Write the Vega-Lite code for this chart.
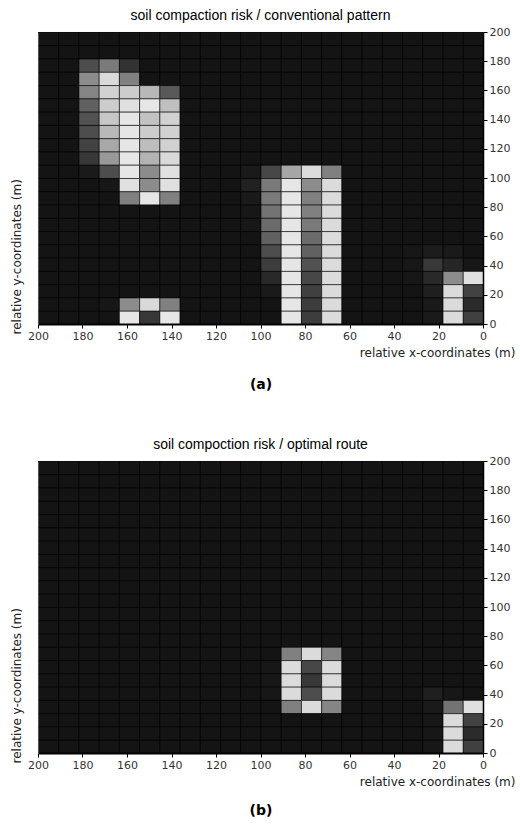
{
"$schema": "https://vega.github.io/schema/vega-lite/v6.json",
"padding": {"left": 9, "top": 8, "right": 0, "bottom": 0},
"background": "white",
"config": {"view": {"stroke": "#aaaaaa", "strokeWidth": 1}, "concat": {"spacing": 45}},
"datasets": {
"a": [
{"x":190.91,"y":190.91,"v":8},{"x":181.82,"y":190.91,"v":8},{"x":172.73,"y":190.91,"v":8},{"x":163.64,"y":190.91,"v":8},{"x":154.55,"y":190.91,"v":8},{"x":145.45,"y":190.91,"v":8},{"x":136.36,"y":190.91,"v":8},{"x":127.27,"y":190.91,"v":8},{"x":118.18,"y":190.91,"v":8},{"x":109.09,"y":190.91,"v":8},{"x":100,"y":190.91,"v":8},{"x":90.91,"y":190.91,"v":8},{"x":81.82,"y":190.91,"v":8},{"x":72.73,"y":190.91,"v":8},{"x":63.64,"y":190.91,"v":8},{"x":54.55,"y":190.91,"v":8},{"x":45.45,"y":190.91,"v":8},{"x":36.36,"y":190.91,"v":8},{"x":27.27,"y":190.91,"v":8},{"x":18.18,"y":190.91,"v":8},{"x":9.09,"y":190.91,"v":8},{"x":0,"y":190.91,"v":8},
{"x":190.91,"y":181.82,"v":8},{"x":181.82,"y":181.82,"v":8},{"x":172.73,"y":181.82,"v":8},{"x":163.64,"y":181.82,"v":8},{"x":154.55,"y":181.82,"v":8},{"x":145.45,"y":181.82,"v":8},{"x":136.36,"y":181.82,"v":8},{"x":127.27,"y":181.82,"v":8},{"x":118.18,"y":181.82,"v":8},{"x":109.09,"y":181.82,"v":8},{"x":100,"y":181.82,"v":8},{"x":90.91,"y":181.82,"v":8},{"x":81.82,"y":181.82,"v":8},{"x":72.73,"y":181.82,"v":8},{"x":63.64,"y":181.82,"v":8},{"x":54.55,"y":181.82,"v":8},{"x":45.45,"y":181.82,"v":8},{"x":36.36,"y":181.82,"v":8},{"x":27.27,"y":181.82,"v":8},{"x":18.18,"y":181.82,"v":8},{"x":9.09,"y":181.82,"v":8},{"x":0,"y":181.82,"v":8},
{"x":190.91,"y":172.73,"v":8},{"x":181.82,"y":172.73,"v":8},{"x":172.73,"y":172.73,"v":30},{"x":163.64,"y":172.73,"v":48},{"x":154.55,"y":172.73,"v":20},{"x":145.45,"y":172.73,"v":8},{"x":136.36,"y":172.73,"v":8},{"x":127.27,"y":172.73,"v":8},{"x":118.18,"y":172.73,"v":8},{"x":109.09,"y":172.73,"v":8},{"x":100,"y":172.73,"v":8},{"x":90.91,"y":172.73,"v":8},{"x":81.82,"y":172.73,"v":8},{"x":72.73,"y":172.73,"v":8},{"x":63.64,"y":172.73,"v":8},{"x":54.55,"y":172.73,"v":8},{"x":45.45,"y":172.73,"v":8},{"x":36.36,"y":172.73,"v":8},{"x":27.27,"y":172.73,"v":8},{"x":18.18,"y":172.73,"v":8},{"x":9.09,"y":172.73,"v":8},{"x":0,"y":172.73,"v":8},
{"x":190.91,"y":163.64,"v":8},{"x":181.82,"y":163.64,"v":8},{"x":172.73,"y":163.64,"v":55},{"x":163.64,"y":163.64,"v":85},{"x":154.55,"y":163.64,"v":50},{"x":145.45,"y":163.64,"v":8},{"x":136.36,"y":163.64,"v":8},{"x":127.27,"y":163.64,"v":8},{"x":118.18,"y":163.64,"v":8},{"x":109.09,"y":163.64,"v":8},{"x":100,"y":163.64,"v":8},{"x":90.91,"y":163.64,"v":8},{"x":81.82,"y":163.64,"v":8},{"x":72.73,"y":163.64,"v":8},{"x":63.64,"y":163.64,"v":8},{"x":54.55,"y":163.64,"v":8},{"x":45.45,"y":163.64,"v":8},{"x":36.36,"y":163.64,"v":8},{"x":27.27,"y":163.64,"v":8},{"x":18.18,"y":163.64,"v":8},{"x":9.09,"y":163.64,"v":8},{"x":0,"y":163.64,"v":8},
{"x":190.91,"y":154.55,"v":8},{"x":181.82,"y":154.55,"v":8},{"x":172.73,"y":154.55,"v":52},{"x":163.64,"y":154.55,"v":82},{"x":154.55,"y":154.55,"v":80},{"x":145.45,"y":154.55,"v":72},{"x":136.36,"y":154.55,"v":35},{"x":127.27,"y":154.55,"v":8},{"x":118.18,"y":154.55,"v":8},{"x":109.09,"y":154.55,"v":8},{"x":100,"y":154.55,"v":8},{"x":90.91,"y":154.55,"v":8},{"x":81.82,"y":154.55,"v":8},{"x":72.73,"y":154.55,"v":8},{"x":63.64,"y":154.55,"v":8},{"x":54.55,"y":154.55,"v":8},{"x":45.45,"y":154.55,"v":8},{"x":36.36,"y":154.55,"v":8},{"x":27.27,"y":154.55,"v":8},{"x":18.18,"y":154.55,"v":8},{"x":9.09,"y":154.55,"v":8},{"x":0,"y":154.55,"v":8},
{"x":190.91,"y":145.45,"v":8},{"x":181.82,"y":145.45,"v":8},{"x":172.73,"y":145.45,"v":38},{"x":163.64,"y":145.45,"v":80},{"x":154.55,"y":145.45,"v":88},{"x":145.45,"y":145.45,"v":90},{"x":136.36,"y":145.45,"v":75},{"x":127.27,"y":145.45,"v":8},{"x":118.18,"y":145.45,"v":8},{"x":109.09,"y":145.45,"v":8},{"x":100,"y":145.45,"v":8},{"x":90.91,"y":145.45,"v":8},{"x":81.82,"y":145.45,"v":8},{"x":72.73,"y":145.45,"v":8},{"x":63.64,"y":145.45,"v":8},{"x":54.55,"y":145.45,"v":8},{"x":45.45,"y":145.45,"v":8},{"x":36.36,"y":145.45,"v":8},{"x":27.27,"y":145.45,"v":8},{"x":18.18,"y":145.45,"v":8},{"x":9.09,"y":145.45,"v":8},{"x":0,"y":145.45,"v":8},
{"x":190.91,"y":136.36,"v":8},{"x":181.82,"y":136.36,"v":8},{"x":172.73,"y":136.36,"v":32},{"x":163.64,"y":136.36,"v":78},{"x":154.55,"y":136.36,"v":90},{"x":145.45,"y":136.36,"v":76},{"x":136.36,"y":136.36,"v":82},{"x":127.27,"y":136.36,"v":8},{"x":118.18,"y":136.36,"v":8},{"x":109.09,"y":136.36,"v":8},{"x":100,"y":136.36,"v":8},{"x":90.91,"y":136.36,"v":8},{"x":81.82,"y":136.36,"v":8},{"x":72.73,"y":136.36,"v":8},{"x":63.64,"y":136.36,"v":8},{"x":54.55,"y":136.36,"v":8},{"x":45.45,"y":136.36,"v":8},{"x":36.36,"y":136.36,"v":8},{"x":27.27,"y":136.36,"v":8},{"x":18.18,"y":136.36,"v":8},{"x":9.09,"y":136.36,"v":8},{"x":0,"y":136.36,"v":8},
{"x":190.91,"y":127.27,"v":8},{"x":181.82,"y":127.27,"v":8},{"x":172.73,"y":127.27,"v":30},{"x":163.64,"y":127.27,"v":72},{"x":154.55,"y":127.27,"v":90},{"x":145.45,"y":127.27,"v":80},{"x":136.36,"y":127.27,"v":82},{"x":127.27,"y":127.27,"v":8},{"x":118.18,"y":127.27,"v":8},{"x":109.09,"y":127.27,"v":8},{"x":100,"y":127.27,"v":8},{"x":90.91,"y":127.27,"v":8},{"x":81.82,"y":127.27,"v":8},{"x":72.73,"y":127.27,"v":8},{"x":63.64,"y":127.27,"v":8},{"x":54.55,"y":127.27,"v":8},{"x":45.45,"y":127.27,"v":8},{"x":36.36,"y":127.27,"v":8},{"x":27.27,"y":127.27,"v":8},{"x":18.18,"y":127.27,"v":8},{"x":9.09,"y":127.27,"v":8},{"x":0,"y":127.27,"v":8},
{"x":190.91,"y":118.18,"v":8},{"x":181.82,"y":118.18,"v":8},{"x":172.73,"y":118.18,"v":26},{"x":163.64,"y":118.18,"v":66},{"x":154.55,"y":118.18,"v":90},{"x":145.45,"y":118.18,"v":74},{"x":136.36,"y":118.18,"v":82},{"x":127.27,"y":118.18,"v":8},{"x":118.18,"y":118.18,"v":8},{"x":109.09,"y":118.18,"v":8},{"x":100,"y":118.18,"v":8},{"x":90.91,"y":118.18,"v":8},{"x":81.82,"y":118.18,"v":8},{"x":72.73,"y":118.18,"v":8},{"x":63.64,"y":118.18,"v":8},{"x":54.55,"y":118.18,"v":8},{"x":45.45,"y":118.18,"v":8},{"x":36.36,"y":118.18,"v":8},{"x":27.27,"y":118.18,"v":8},{"x":18.18,"y":118.18,"v":8},{"x":9.09,"y":118.18,"v":8},{"x":0,"y":118.18,"v":8},
{"x":190.91,"y":109.09,"v":8},{"x":181.82,"y":109.09,"v":8},{"x":172.73,"y":109.09,"v":22},{"x":163.64,"y":109.09,"v":60},{"x":154.55,"y":109.09,"v":90},{"x":145.45,"y":109.09,"v":70},{"x":136.36,"y":109.09,"v":85},{"x":127.27,"y":109.09,"v":8},{"x":118.18,"y":109.09,"v":8},{"x":109.09,"y":109.09,"v":8},{"x":100,"y":109.09,"v":8},{"x":90.91,"y":109.09,"v":8},{"x":81.82,"y":109.09,"v":8},{"x":72.73,"y":109.09,"v":8},{"x":63.64,"y":109.09,"v":8},{"x":54.55,"y":109.09,"v":8},{"x":45.45,"y":109.09,"v":8},{"x":36.36,"y":109.09,"v":8},{"x":27.27,"y":109.09,"v":8},{"x":18.18,"y":109.09,"v":8},{"x":9.09,"y":109.09,"v":8},{"x":0,"y":109.09,"v":8},
{"x":190.91,"y":100,"v":8},{"x":181.82,"y":100,"v":8},{"x":172.73,"y":100,"v":10},{"x":163.64,"y":100,"v":30},{"x":154.55,"y":100,"v":90},{"x":145.45,"y":100,"v":55},{"x":136.36,"y":100,"v":88},{"x":127.27,"y":100,"v":8},{"x":118.18,"y":100,"v":8},{"x":109.09,"y":100,"v":8},{"x":100,"y":100,"v":10},{"x":90.91,"y":100,"v":28},{"x":81.82,"y":100,"v":65},{"x":72.73,"y":100,"v":86},{"x":63.64,"y":100,"v":50},{"x":54.55,"y":100,"v":8},{"x":45.45,"y":100,"v":8},{"x":36.36,"y":100,"v":8},{"x":27.27,"y":100,"v":8},{"x":18.18,"y":100,"v":8},{"x":9.09,"y":100,"v":8},{"x":0,"y":100,"v":8},
{"x":190.91,"y":90.91,"v":8},{"x":181.82,"y":90.91,"v":8},{"x":172.73,"y":90.91,"v":8},{"x":163.64,"y":90.91,"v":9},{"x":154.55,"y":90.91,"v":88},{"x":145.45,"y":90.91,"v":55},{"x":136.36,"y":90.91,"v":88},{"x":127.27,"y":90.91,"v":8},{"x":118.18,"y":90.91,"v":8},{"x":109.09,"y":90.91,"v":8},{"x":100,"y":90.91,"v":13},{"x":90.91,"y":90.91,"v":48},{"x":81.82,"y":90.91,"v":90},{"x":72.73,"y":90.91,"v":55},{"x":63.64,"y":90.91,"v":86},{"x":54.55,"y":90.91,"v":8},{"x":45.45,"y":90.91,"v":8},{"x":36.36,"y":90.91,"v":8},{"x":27.27,"y":90.91,"v":8},{"x":18.18,"y":90.91,"v":8},{"x":9.09,"y":90.91,"v":8},{"x":0,"y":90.91,"v":8},
{"x":190.91,"y":81.82,"v":8},{"x":181.82,"y":81.82,"v":8},{"x":172.73,"y":81.82,"v":8},{"x":163.64,"y":81.82,"v":8},{"x":154.55,"y":81.82,"v":50},{"x":145.45,"y":81.82,"v":90},{"x":136.36,"y":81.82,"v":50},{"x":127.27,"y":81.82,"v":8},{"x":118.18,"y":81.82,"v":8},{"x":109.09,"y":81.82,"v":8},{"x":100,"y":81.82,"v":10},{"x":90.91,"y":81.82,"v":48},{"x":81.82,"y":81.82,"v":90},{"x":72.73,"y":81.82,"v":50},{"x":63.64,"y":81.82,"v":86},{"x":54.55,"y":81.82,"v":8},{"x":45.45,"y":81.82,"v":8},{"x":36.36,"y":81.82,"v":8},{"x":27.27,"y":81.82,"v":8},{"x":18.18,"y":81.82,"v":8},{"x":9.09,"y":81.82,"v":8},{"x":0,"y":81.82,"v":8},
{"x":190.91,"y":72.73,"v":8},{"x":181.82,"y":72.73,"v":8},{"x":172.73,"y":72.73,"v":8},{"x":163.64,"y":72.73,"v":8},{"x":154.55,"y":72.73,"v":8},{"x":145.45,"y":72.73,"v":8},{"x":136.36,"y":72.73,"v":8},{"x":127.27,"y":72.73,"v":8},{"x":118.18,"y":72.73,"v":8},{"x":109.09,"y":72.73,"v":8},{"x":100,"y":72.73,"v":9},{"x":90.91,"y":72.73,"v":45},{"x":81.82,"y":72.73,"v":90},{"x":72.73,"y":72.73,"v":50},{"x":63.64,"y":72.73,"v":86},{"x":54.55,"y":72.73,"v":8},{"x":45.45,"y":72.73,"v":8},{"x":36.36,"y":72.73,"v":8},{"x":27.27,"y":72.73,"v":8},{"x":18.18,"y":72.73,"v":8},{"x":9.09,"y":72.73,"v":8},{"x":0,"y":72.73,"v":8},
{"x":190.91,"y":63.64,"v":8},{"x":181.82,"y":63.64,"v":8},{"x":172.73,"y":63.64,"v":8},{"x":163.64,"y":63.64,"v":8},{"x":154.55,"y":63.64,"v":8},{"x":145.45,"y":63.64,"v":8},{"x":136.36,"y":63.64,"v":8},{"x":127.27,"y":63.64,"v":8},{"x":118.18,"y":63.64,"v":8},{"x":109.09,"y":63.64,"v":8},{"x":100,"y":63.64,"v":9},{"x":90.91,"y":63.64,"v":42},{"x":81.82,"y":63.64,"v":90},{"x":72.73,"y":63.64,"v":48},{"x":63.64,"y":63.64,"v":86},{"x":54.55,"y":63.64,"v":8},{"x":45.45,"y":63.64,"v":8},{"x":36.36,"y":63.64,"v":8},{"x":27.27,"y":63.64,"v":8},{"x":18.18,"y":63.64,"v":8},{"x":9.09,"y":63.64,"v":8},{"x":0,"y":63.64,"v":8},
{"x":190.91,"y":54.55,"v":8},{"x":181.82,"y":54.55,"v":8},{"x":172.73,"y":54.55,"v":8},{"x":163.64,"y":54.55,"v":8},{"x":154.55,"y":54.55,"v":8},{"x":145.45,"y":54.55,"v":8},{"x":136.36,"y":54.55,"v":8},{"x":127.27,"y":54.55,"v":8},{"x":118.18,"y":54.55,"v":8},{"x":109.09,"y":54.55,"v":8},{"x":100,"y":54.55,"v":8},{"x":90.91,"y":54.55,"v":38},{"x":81.82,"y":54.55,"v":90},{"x":72.73,"y":54.55,"v":42},{"x":63.64,"y":54.55,"v":86},{"x":54.55,"y":54.55,"v":8},{"x":45.45,"y":54.55,"v":8},{"x":36.36,"y":54.55,"v":8},{"x":27.27,"y":54.55,"v":8},{"x":18.18,"y":54.55,"v":8},{"x":9.09,"y":54.55,"v":8},{"x":0,"y":54.55,"v":8},
{"x":190.91,"y":45.45,"v":8},{"x":181.82,"y":45.45,"v":8},{"x":172.73,"y":45.45,"v":8},{"x":163.64,"y":45.45,"v":8},{"x":154.55,"y":45.45,"v":8},{"x":145.45,"y":45.45,"v":8},{"x":136.36,"y":45.45,"v":8},{"x":127.27,"y":45.45,"v":8},{"x":118.18,"y":45.45,"v":8},{"x":109.09,"y":45.45,"v":8},{"x":100,"y":45.45,"v":8},{"x":90.91,"y":45.45,"v":30},{"x":81.82,"y":45.45,"v":90},{"x":72.73,"y":45.45,"v":38},{"x":63.64,"y":45.45,"v":86},{"x":54.55,"y":45.45,"v":8},{"x":45.45,"y":45.45,"v":8},{"x":36.36,"y":45.45,"v":8},{"x":27.27,"y":45.45,"v":9},{"x":18.18,"y":45.45,"v":11},{"x":9.09,"y":45.45,"v":10},{"x":0,"y":45.45,"v":8},
{"x":190.91,"y":36.36,"v":8},{"x":181.82,"y":36.36,"v":8},{"x":172.73,"y":36.36,"v":8},{"x":163.64,"y":36.36,"v":8},{"x":154.55,"y":36.36,"v":8},{"x":145.45,"y":36.36,"v":8},{"x":136.36,"y":36.36,"v":8},{"x":127.27,"y":36.36,"v":8},{"x":118.18,"y":36.36,"v":8},{"x":109.09,"y":36.36,"v":8},{"x":100,"y":36.36,"v":8},{"x":90.91,"y":36.36,"v":24},{"x":81.82,"y":36.36,"v":90},{"x":72.73,"y":36.36,"v":32},{"x":63.64,"y":36.36,"v":86},{"x":54.55,"y":36.36,"v":8},{"x":45.45,"y":36.36,"v":8},{"x":36.36,"y":36.36,"v":8},{"x":27.27,"y":36.36,"v":9},{"x":18.18,"y":36.36,"v":22},{"x":9.09,"y":36.36,"v":15},{"x":0,"y":36.36,"v":9},
{"x":190.91,"y":27.27,"v":8},{"x":181.82,"y":27.27,"v":8},{"x":172.73,"y":27.27,"v":8},{"x":163.64,"y":27.27,"v":8},{"x":154.55,"y":27.27,"v":8},{"x":145.45,"y":27.27,"v":8},{"x":136.36,"y":27.27,"v":8},{"x":127.27,"y":27.27,"v":8},{"x":118.18,"y":27.27,"v":8},{"x":109.09,"y":27.27,"v":8},{"x":100,"y":27.27,"v":8},{"x":90.91,"y":27.27,"v":16},{"x":81.82,"y":27.27,"v":90},{"x":72.73,"y":27.27,"v":28},{"x":63.64,"y":27.27,"v":86},{"x":54.55,"y":27.27,"v":8},{"x":45.45,"y":27.27,"v":8},{"x":36.36,"y":27.27,"v":8},{"x":27.27,"y":27.27,"v":9},{"x":18.18,"y":27.27,"v":16},{"x":9.09,"y":27.27,"v":55},{"x":0,"y":27.27,"v":88},
{"x":190.91,"y":18.18,"v":8},{"x":181.82,"y":18.18,"v":8},{"x":172.73,"y":18.18,"v":8},{"x":163.64,"y":18.18,"v":8},{"x":154.55,"y":18.18,"v":8},{"x":145.45,"y":18.18,"v":8},{"x":136.36,"y":18.18,"v":8},{"x":127.27,"y":18.18,"v":8},{"x":118.18,"y":18.18,"v":8},{"x":109.09,"y":18.18,"v":8},{"x":100,"y":18.18,"v":8},{"x":90.91,"y":18.18,"v":10},{"x":81.82,"y":18.18,"v":90},{"x":72.73,"y":18.18,"v":25},{"x":63.64,"y":18.18,"v":86},{"x":54.55,"y":18.18,"v":8},{"x":45.45,"y":18.18,"v":8},{"x":36.36,"y":18.18,"v":8},{"x":27.27,"y":18.18,"v":8},{"x":18.18,"y":18.18,"v":12},{"x":9.09,"y":18.18,"v":86},{"x":0,"y":18.18,"v":26},
{"x":190.91,"y":9.09,"v":8},{"x":181.82,"y":9.09,"v":8},{"x":172.73,"y":9.09,"v":8},{"x":163.64,"y":9.09,"v":9},{"x":154.55,"y":9.09,"v":55},{"x":145.45,"y":9.09,"v":85},{"x":136.36,"y":9.09,"v":50},{"x":127.27,"y":9.09,"v":8},{"x":118.18,"y":9.09,"v":8},{"x":109.09,"y":9.09,"v":8},{"x":100,"y":9.09,"v":8},{"x":90.91,"y":9.09,"v":8},{"x":81.82,"y":9.09,"v":90},{"x":72.73,"y":9.09,"v":24},{"x":63.64,"y":9.09,"v":86},{"x":54.55,"y":9.09,"v":8},{"x":45.45,"y":9.09,"v":8},{"x":36.36,"y":9.09,"v":8},{"x":27.27,"y":9.09,"v":8},{"x":18.18,"y":9.09,"v":10},{"x":9.09,"y":9.09,"v":86},{"x":0,"y":9.09,"v":17},
{"x":190.91,"y":0,"v":8},{"x":181.82,"y":0,"v":8},{"x":172.73,"y":0,"v":8},{"x":163.64,"y":0,"v":8},{"x":154.55,"y":0,"v":90},{"x":145.45,"y":0,"v":22},{"x":136.36,"y":0,"v":90},{"x":127.27,"y":0,"v":8},{"x":118.18,"y":0,"v":8},{"x":109.09,"y":0,"v":8},{"x":100,"y":0,"v":8},{"x":90.91,"y":0,"v":8},{"x":81.82,"y":0,"v":90},{"x":72.73,"y":0,"v":24},{"x":63.64,"y":0,"v":86},{"x":54.55,"y":0,"v":8},{"x":45.45,"y":0,"v":8},{"x":36.36,"y":0,"v":8},{"x":27.27,"y":0,"v":8},{"x":18.18,"y":0,"v":10},{"x":9.09,"y":0,"v":86},{"x":0,"y":0,"v":25}
],
"b": [
{"x":190.91,"y":190.91,"v":8},{"x":181.82,"y":190.91,"v":8},{"x":172.73,"y":190.91,"v":8},{"x":163.64,"y":190.91,"v":8},{"x":154.55,"y":190.91,"v":8},{"x":145.45,"y":190.91,"v":8},{"x":136.36,"y":190.91,"v":8},{"x":127.27,"y":190.91,"v":8},{"x":118.18,"y":190.91,"v":8},{"x":109.09,"y":190.91,"v":8},{"x":100,"y":190.91,"v":8},{"x":90.91,"y":190.91,"v":8},{"x":81.82,"y":190.91,"v":8},{"x":72.73,"y":190.91,"v":8},{"x":63.64,"y":190.91,"v":8},{"x":54.55,"y":190.91,"v":8},{"x":45.45,"y":190.91,"v":8},{"x":36.36,"y":190.91,"v":8},{"x":27.27,"y":190.91,"v":8},{"x":18.18,"y":190.91,"v":8},{"x":9.09,"y":190.91,"v":8},{"x":0,"y":190.91,"v":8},
{"x":190.91,"y":181.82,"v":8},{"x":181.82,"y":181.82,"v":8},{"x":172.73,"y":181.82,"v":8},{"x":163.64,"y":181.82,"v":8},{"x":154.55,"y":181.82,"v":8},{"x":145.45,"y":181.82,"v":8},{"x":136.36,"y":181.82,"v":8},{"x":127.27,"y":181.82,"v":8},{"x":118.18,"y":181.82,"v":8},{"x":109.09,"y":181.82,"v":8},{"x":100,"y":181.82,"v":8},{"x":90.91,"y":181.82,"v":8},{"x":81.82,"y":181.82,"v":8},{"x":72.73,"y":181.82,"v":8},{"x":63.64,"y":181.82,"v":8},{"x":54.55,"y":181.82,"v":8},{"x":45.45,"y":181.82,"v":8},{"x":36.36,"y":181.82,"v":8},{"x":27.27,"y":181.82,"v":8},{"x":18.18,"y":181.82,"v":8},{"x":9.09,"y":181.82,"v":8},{"x":0,"y":181.82,"v":8},
{"x":190.91,"y":172.73,"v":8},{"x":181.82,"y":172.73,"v":8},{"x":172.73,"y":172.73,"v":8},{"x":163.64,"y":172.73,"v":8},{"x":154.55,"y":172.73,"v":8},{"x":145.45,"y":172.73,"v":8},{"x":136.36,"y":172.73,"v":8},{"x":127.27,"y":172.73,"v":8},{"x":118.18,"y":172.73,"v":8},{"x":109.09,"y":172.73,"v":8},{"x":100,"y":172.73,"v":8},{"x":90.91,"y":172.73,"v":8},{"x":81.82,"y":172.73,"v":8},{"x":72.73,"y":172.73,"v":8},{"x":63.64,"y":172.73,"v":8},{"x":54.55,"y":172.73,"v":8},{"x":45.45,"y":172.73,"v":8},{"x":36.36,"y":172.73,"v":8},{"x":27.27,"y":172.73,"v":8},{"x":18.18,"y":172.73,"v":8},{"x":9.09,"y":172.73,"v":8},{"x":0,"y":172.73,"v":8},
{"x":190.91,"y":163.64,"v":8},{"x":181.82,"y":163.64,"v":8},{"x":172.73,"y":163.64,"v":8},{"x":163.64,"y":163.64,"v":8},{"x":154.55,"y":163.64,"v":8},{"x":145.45,"y":163.64,"v":8},{"x":136.36,"y":163.64,"v":8},{"x":127.27,"y":163.64,"v":8},{"x":118.18,"y":163.64,"v":8},{"x":109.09,"y":163.64,"v":8},{"x":100,"y":163.64,"v":8},{"x":90.91,"y":163.64,"v":8},{"x":81.82,"y":163.64,"v":8},{"x":72.73,"y":163.64,"v":8},{"x":63.64,"y":163.64,"v":8},{"x":54.55,"y":163.64,"v":8},{"x":45.45,"y":163.64,"v":8},{"x":36.36,"y":163.64,"v":8},{"x":27.27,"y":163.64,"v":8},{"x":18.18,"y":163.64,"v":8},{"x":9.09,"y":163.64,"v":8},{"x":0,"y":163.64,"v":8},
{"x":190.91,"y":154.55,"v":8},{"x":181.82,"y":154.55,"v":8},{"x":172.73,"y":154.55,"v":8},{"x":163.64,"y":154.55,"v":8},{"x":154.55,"y":154.55,"v":8},{"x":145.45,"y":154.55,"v":8},{"x":136.36,"y":154.55,"v":8},{"x":127.27,"y":154.55,"v":8},{"x":118.18,"y":154.55,"v":8},{"x":109.09,"y":154.55,"v":8},{"x":100,"y":154.55,"v":8},{"x":90.91,"y":154.55,"v":8},{"x":81.82,"y":154.55,"v":8},{"x":72.73,"y":154.55,"v":8},{"x":63.64,"y":154.55,"v":8},{"x":54.55,"y":154.55,"v":8},{"x":45.45,"y":154.55,"v":8},{"x":36.36,"y":154.55,"v":8},{"x":27.27,"y":154.55,"v":8},{"x":18.18,"y":154.55,"v":8},{"x":9.09,"y":154.55,"v":8},{"x":0,"y":154.55,"v":8},
{"x":190.91,"y":145.45,"v":8},{"x":181.82,"y":145.45,"v":8},{"x":172.73,"y":145.45,"v":8},{"x":163.64,"y":145.45,"v":8},{"x":154.55,"y":145.45,"v":8},{"x":145.45,"y":145.45,"v":8},{"x":136.36,"y":145.45,"v":8},{"x":127.27,"y":145.45,"v":8},{"x":118.18,"y":145.45,"v":8},{"x":109.09,"y":145.45,"v":8},{"x":100,"y":145.45,"v":8},{"x":90.91,"y":145.45,"v":8},{"x":81.82,"y":145.45,"v":8},{"x":72.73,"y":145.45,"v":8},{"x":63.64,"y":145.45,"v":8},{"x":54.55,"y":145.45,"v":8},{"x":45.45,"y":145.45,"v":8},{"x":36.36,"y":145.45,"v":8},{"x":27.27,"y":145.45,"v":8},{"x":18.18,"y":145.45,"v":8},{"x":9.09,"y":145.45,"v":8},{"x":0,"y":145.45,"v":8},
{"x":190.91,"y":136.36,"v":8},{"x":181.82,"y":136.36,"v":8},{"x":172.73,"y":136.36,"v":8},{"x":163.64,"y":136.36,"v":8},{"x":154.55,"y":136.36,"v":8},{"x":145.45,"y":136.36,"v":8},{"x":136.36,"y":136.36,"v":8},{"x":127.27,"y":136.36,"v":8},{"x":118.18,"y":136.36,"v":8},{"x":109.09,"y":136.36,"v":8},{"x":100,"y":136.36,"v":8},{"x":90.91,"y":136.36,"v":8},{"x":81.82,"y":136.36,"v":8},{"x":72.73,"y":136.36,"v":8},{"x":63.64,"y":136.36,"v":8},{"x":54.55,"y":136.36,"v":8},{"x":45.45,"y":136.36,"v":8},{"x":36.36,"y":136.36,"v":8},{"x":27.27,"y":136.36,"v":8},{"x":18.18,"y":136.36,"v":8},{"x":9.09,"y":136.36,"v":8},{"x":0,"y":136.36,"v":8},
{"x":190.91,"y":127.27,"v":8},{"x":181.82,"y":127.27,"v":8},{"x":172.73,"y":127.27,"v":8},{"x":163.64,"y":127.27,"v":8},{"x":154.55,"y":127.27,"v":8},{"x":145.45,"y":127.27,"v":8},{"x":136.36,"y":127.27,"v":8},{"x":127.27,"y":127.27,"v":8},{"x":118.18,"y":127.27,"v":8},{"x":109.09,"y":127.27,"v":8},{"x":100,"y":127.27,"v":8},{"x":90.91,"y":127.27,"v":8},{"x":81.82,"y":127.27,"v":8},{"x":72.73,"y":127.27,"v":8},{"x":63.64,"y":127.27,"v":8},{"x":54.55,"y":127.27,"v":8},{"x":45.45,"y":127.27,"v":8},{"x":36.36,"y":127.27,"v":8},{"x":27.27,"y":127.27,"v":8},{"x":18.18,"y":127.27,"v":8},{"x":9.09,"y":127.27,"v":8},{"x":0,"y":127.27,"v":8},
{"x":190.91,"y":118.18,"v":8},{"x":181.82,"y":118.18,"v":8},{"x":172.73,"y":118.18,"v":8},{"x":163.64,"y":118.18,"v":8},{"x":154.55,"y":118.18,"v":8},{"x":145.45,"y":118.18,"v":8},{"x":136.36,"y":118.18,"v":8},{"x":127.27,"y":118.18,"v":8},{"x":118.18,"y":118.18,"v":8},{"x":109.09,"y":118.18,"v":8},{"x":100,"y":118.18,"v":8},{"x":90.91,"y":118.18,"v":8},{"x":81.82,"y":118.18,"v":8},{"x":72.73,"y":118.18,"v":8},{"x":63.64,"y":118.18,"v":8},{"x":54.55,"y":118.18,"v":8},{"x":45.45,"y":118.18,"v":8},{"x":36.36,"y":118.18,"v":8},{"x":27.27,"y":118.18,"v":8},{"x":18.18,"y":118.18,"v":8},{"x":9.09,"y":118.18,"v":8},{"x":0,"y":118.18,"v":8},
{"x":190.91,"y":109.09,"v":8},{"x":181.82,"y":109.09,"v":8},{"x":172.73,"y":109.09,"v":8},{"x":163.64,"y":109.09,"v":8},{"x":154.55,"y":109.09,"v":8},{"x":145.45,"y":109.09,"v":8},{"x":136.36,"y":109.09,"v":8},{"x":127.27,"y":109.09,"v":8},{"x":118.18,"y":109.09,"v":8},{"x":109.09,"y":109.09,"v":8},{"x":100,"y":109.09,"v":8},{"x":90.91,"y":109.09,"v":8},{"x":81.82,"y":109.09,"v":8},{"x":72.73,"y":109.09,"v":8},{"x":63.64,"y":109.09,"v":8},{"x":54.55,"y":109.09,"v":8},{"x":45.45,"y":109.09,"v":8},{"x":36.36,"y":109.09,"v":8},{"x":27.27,"y":109.09,"v":8},{"x":18.18,"y":109.09,"v":8},{"x":9.09,"y":109.09,"v":8},{"x":0,"y":109.09,"v":8},
{"x":190.91,"y":100,"v":8},{"x":181.82,"y":100,"v":8},{"x":172.73,"y":100,"v":8},{"x":163.64,"y":100,"v":8},{"x":154.55,"y":100,"v":8},{"x":145.45,"y":100,"v":8},{"x":136.36,"y":100,"v":8},{"x":127.27,"y":100,"v":8},{"x":118.18,"y":100,"v":8},{"x":109.09,"y":100,"v":8},{"x":100,"y":100,"v":8},{"x":90.91,"y":100,"v":8},{"x":81.82,"y":100,"v":8},{"x":72.73,"y":100,"v":8},{"x":63.64,"y":100,"v":8},{"x":54.55,"y":100,"v":8},{"x":45.45,"y":100,"v":8},{"x":36.36,"y":100,"v":8},{"x":27.27,"y":100,"v":8},{"x":18.18,"y":100,"v":8},{"x":9.09,"y":100,"v":8},{"x":0,"y":100,"v":8},
{"x":190.91,"y":90.91,"v":8},{"x":181.82,"y":90.91,"v":8},{"x":172.73,"y":90.91,"v":8},{"x":163.64,"y":90.91,"v":8},{"x":154.55,"y":90.91,"v":8},{"x":145.45,"y":90.91,"v":8},{"x":136.36,"y":90.91,"v":8},{"x":127.27,"y":90.91,"v":8},{"x":118.18,"y":90.91,"v":8},{"x":109.09,"y":90.91,"v":8},{"x":100,"y":90.91,"v":8},{"x":90.91,"y":90.91,"v":8},{"x":81.82,"y":90.91,"v":8},{"x":72.73,"y":90.91,"v":8},{"x":63.64,"y":90.91,"v":8},{"x":54.55,"y":90.91,"v":8},{"x":45.45,"y":90.91,"v":8},{"x":36.36,"y":90.91,"v":8},{"x":27.27,"y":90.91,"v":8},{"x":18.18,"y":90.91,"v":8},{"x":9.09,"y":90.91,"v":8},{"x":0,"y":90.91,"v":8},
{"x":190.91,"y":81.82,"v":8},{"x":181.82,"y":81.82,"v":8},{"x":172.73,"y":81.82,"v":8},{"x":163.64,"y":81.82,"v":8},{"x":154.55,"y":81.82,"v":8},{"x":145.45,"y":81.82,"v":8},{"x":136.36,"y":81.82,"v":8},{"x":127.27,"y":81.82,"v":8},{"x":118.18,"y":81.82,"v":8},{"x":109.09,"y":81.82,"v":8},{"x":100,"y":81.82,"v":8},{"x":90.91,"y":81.82,"v":8},{"x":81.82,"y":81.82,"v":8},{"x":72.73,"y":81.82,"v":8},{"x":63.64,"y":81.82,"v":8},{"x":54.55,"y":81.82,"v":8},{"x":45.45,"y":81.82,"v":8},{"x":36.36,"y":81.82,"v":8},{"x":27.27,"y":81.82,"v":8},{"x":18.18,"y":81.82,"v":8},{"x":9.09,"y":81.82,"v":8},{"x":0,"y":81.82,"v":8},
{"x":190.91,"y":72.73,"v":8},{"x":181.82,"y":72.73,"v":8},{"x":172.73,"y":72.73,"v":8},{"x":163.64,"y":72.73,"v":8},{"x":154.55,"y":72.73,"v":8},{"x":145.45,"y":72.73,"v":8},{"x":136.36,"y":72.73,"v":8},{"x":127.27,"y":72.73,"v":8},{"x":118.18,"y":72.73,"v":8},{"x":109.09,"y":72.73,"v":8},{"x":100,"y":72.73,"v":8},{"x":90.91,"y":72.73,"v":8},{"x":81.82,"y":72.73,"v":8},{"x":72.73,"y":72.73,"v":8},{"x":63.64,"y":72.73,"v":8},{"x":54.55,"y":72.73,"v":8},{"x":45.45,"y":72.73,"v":8},{"x":36.36,"y":72.73,"v":8},{"x":27.27,"y":72.73,"v":8},{"x":18.18,"y":72.73,"v":8},{"x":9.09,"y":72.73,"v":8},{"x":0,"y":72.73,"v":8},
{"x":190.91,"y":63.64,"v":8},{"x":181.82,"y":63.64,"v":8},{"x":172.73,"y":63.64,"v":8},{"x":163.64,"y":63.64,"v":8},{"x":154.55,"y":63.64,"v":8},{"x":145.45,"y":63.64,"v":8},{"x":136.36,"y":63.64,"v":8},{"x":127.27,"y":63.64,"v":8},{"x":118.18,"y":63.64,"v":8},{"x":109.09,"y":63.64,"v":8},{"x":100,"y":63.64,"v":8},{"x":90.91,"y":63.64,"v":8},{"x":81.82,"y":63.64,"v":50},{"x":72.73,"y":63.64,"v":86},{"x":63.64,"y":63.64,"v":52},{"x":54.55,"y":63.64,"v":8},{"x":45.45,"y":63.64,"v":8},{"x":36.36,"y":63.64,"v":8},{"x":27.27,"y":63.64,"v":8},{"x":18.18,"y":63.64,"v":8},{"x":9.09,"y":63.64,"v":8},{"x":0,"y":63.64,"v":8},
{"x":190.91,"y":54.55,"v":8},{"x":181.82,"y":54.55,"v":8},{"x":172.73,"y":54.55,"v":8},{"x":163.64,"y":54.55,"v":8},{"x":154.55,"y":54.55,"v":8},{"x":145.45,"y":54.55,"v":8},{"x":136.36,"y":54.55,"v":8},{"x":127.27,"y":54.55,"v":8},{"x":118.18,"y":54.55,"v":8},{"x":109.09,"y":54.55,"v":8},{"x":100,"y":54.55,"v":8},{"x":90.91,"y":54.55,"v":9},{"x":81.82,"y":54.55,"v":86},{"x":72.73,"y":54.55,"v":28},{"x":63.64,"y":54.55,"v":86},{"x":54.55,"y":54.55,"v":8},{"x":45.45,"y":54.55,"v":8},{"x":36.36,"y":54.55,"v":8},{"x":27.27,"y":54.55,"v":8},{"x":18.18,"y":54.55,"v":8},{"x":9.09,"y":54.55,"v":8},{"x":0,"y":54.55,"v":8},
{"x":190.91,"y":45.45,"v":8},{"x":181.82,"y":45.45,"v":8},{"x":172.73,"y":45.45,"v":8},{"x":163.64,"y":45.45,"v":8},{"x":154.55,"y":45.45,"v":8},{"x":145.45,"y":45.45,"v":8},{"x":136.36,"y":45.45,"v":8},{"x":127.27,"y":45.45,"v":8},{"x":118.18,"y":45.45,"v":8},{"x":109.09,"y":45.45,"v":8},{"x":100,"y":45.45,"v":8},{"x":90.91,"y":45.45,"v":9},{"x":81.82,"y":45.45,"v":86},{"x":72.73,"y":45.45,"v":22},{"x":63.64,"y":45.45,"v":86},{"x":54.55,"y":45.45,"v":8},{"x":45.45,"y":45.45,"v":8},{"x":36.36,"y":45.45,"v":8},{"x":27.27,"y":45.45,"v":8},{"x":18.18,"y":45.45,"v":8},{"x":9.09,"y":45.45,"v":8},{"x":0,"y":45.45,"v":8},
{"x":190.91,"y":36.36,"v":8},{"x":181.82,"y":36.36,"v":8},{"x":172.73,"y":36.36,"v":8},{"x":163.64,"y":36.36,"v":8},{"x":154.55,"y":36.36,"v":8},{"x":145.45,"y":36.36,"v":8},{"x":136.36,"y":36.36,"v":8},{"x":127.27,"y":36.36,"v":8},{"x":118.18,"y":36.36,"v":8},{"x":109.09,"y":36.36,"v":8},{"x":100,"y":36.36,"v":8},{"x":90.91,"y":36.36,"v":9},{"x":81.82,"y":36.36,"v":86},{"x":72.73,"y":36.36,"v":30},{"x":63.64,"y":36.36,"v":86},{"x":54.55,"y":36.36,"v":8},{"x":45.45,"y":36.36,"v":8},{"x":36.36,"y":36.36,"v":8},{"x":27.27,"y":36.36,"v":8},{"x":18.18,"y":36.36,"v":12},{"x":9.09,"y":36.36,"v":9},{"x":0,"y":36.36,"v":8},
{"x":190.91,"y":27.27,"v":8},{"x":181.82,"y":27.27,"v":8},{"x":172.73,"y":27.27,"v":8},{"x":163.64,"y":27.27,"v":8},{"x":154.55,"y":27.27,"v":8},{"x":145.45,"y":27.27,"v":8},{"x":136.36,"y":27.27,"v":8},{"x":127.27,"y":27.27,"v":8},{"x":118.18,"y":27.27,"v":8},{"x":109.09,"y":27.27,"v":8},{"x":100,"y":27.27,"v":8},{"x":90.91,"y":27.27,"v":8},{"x":81.82,"y":27.27,"v":50},{"x":72.73,"y":27.27,"v":86},{"x":63.64,"y":27.27,"v":52},{"x":54.55,"y":27.27,"v":8},{"x":45.45,"y":27.27,"v":8},{"x":36.36,"y":27.27,"v":8},{"x":27.27,"y":27.27,"v":8},{"x":18.18,"y":27.27,"v":10},{"x":9.09,"y":27.27,"v":45},{"x":0,"y":27.27,"v":88},
{"x":190.91,"y":18.18,"v":8},{"x":181.82,"y":18.18,"v":8},{"x":172.73,"y":18.18,"v":8},{"x":163.64,"y":18.18,"v":8},{"x":154.55,"y":18.18,"v":8},{"x":145.45,"y":18.18,"v":8},{"x":136.36,"y":18.18,"v":8},{"x":127.27,"y":18.18,"v":8},{"x":118.18,"y":18.18,"v":8},{"x":109.09,"y":18.18,"v":8},{"x":100,"y":18.18,"v":8},{"x":90.91,"y":18.18,"v":8},{"x":81.82,"y":18.18,"v":8},{"x":72.73,"y":18.18,"v":8},{"x":63.64,"y":18.18,"v":8},{"x":54.55,"y":18.18,"v":8},{"x":45.45,"y":18.18,"v":8},{"x":36.36,"y":18.18,"v":8},{"x":27.27,"y":18.18,"v":8},{"x":18.18,"y":18.18,"v":9},{"x":9.09,"y":18.18,"v":86},{"x":0,"y":18.18,"v":26},
{"x":190.91,"y":9.09,"v":8},{"x":181.82,"y":9.09,"v":8},{"x":172.73,"y":9.09,"v":8},{"x":163.64,"y":9.09,"v":8},{"x":154.55,"y":9.09,"v":8},{"x":145.45,"y":9.09,"v":8},{"x":136.36,"y":9.09,"v":8},{"x":127.27,"y":9.09,"v":8},{"x":118.18,"y":9.09,"v":8},{"x":109.09,"y":9.09,"v":8},{"x":100,"y":9.09,"v":8},{"x":90.91,"y":9.09,"v":8},{"x":81.82,"y":9.09,"v":8},{"x":72.73,"y":9.09,"v":8},{"x":63.64,"y":9.09,"v":8},{"x":54.55,"y":9.09,"v":8},{"x":45.45,"y":9.09,"v":8},{"x":36.36,"y":9.09,"v":8},{"x":27.27,"y":9.09,"v":8},{"x":18.18,"y":9.09,"v":9},{"x":9.09,"y":9.09,"v":86},{"x":0,"y":9.09,"v":17},
{"x":190.91,"y":0,"v":8},{"x":181.82,"y":0,"v":8},{"x":172.73,"y":0,"v":8},{"x":163.64,"y":0,"v":8},{"x":154.55,"y":0,"v":8},{"x":145.45,"y":0,"v":8},{"x":136.36,"y":0,"v":8},{"x":127.27,"y":0,"v":8},{"x":118.18,"y":0,"v":8},{"x":109.09,"y":0,"v":8},{"x":100,"y":0,"v":8},{"x":90.91,"y":0,"v":8},{"x":81.82,"y":0,"v":8},{"x":72.73,"y":0,"v":8},{"x":63.64,"y":0,"v":8},{"x":54.55,"y":0,"v":8},{"x":45.45,"y":0,"v":8},{"x":36.36,"y":0,"v":8},{"x":27.27,"y":0,"v":8},{"x":18.18,"y":0,"v":9},{"x":9.09,"y":0,"v":86},{"x":0,"y":0,"v":25}
]
},
"vconcat": [
{
"width": 445, "height": 292,
"title": {"text": "soil compaction risk / conventional pattern", "font": "Liberation Sans", "fontSize": 14, "fontWeight": "normal", "color": "#000", "offset": 3},
"data": {"name": "a"},
"layer": [
{"mark": {"type": "rect", "stroke": "#000", "strokeWidth": 0.8, "strokeOpacity": 0.7},
"encoding": {
"x": {"field": "x", "type": "quantitative", "bin": {"binned": true, "step": 9.0909}, "scale": {"domain": [0, 200], "reverse": true, "nice": false, "zero": false},
"axis": {"orient": "bottom", "values": [0,20,40,60,80,100,120,140,160,180,200], "format": "d", "labelFlush": false, "grid": false, "labelFont": "DejaVu Sans", "labelFontSize": 11, "labelColor": "#333", "tickSize": 4, "tickColor": "#000", "domainColor": "#000", "domainWidth": 2, "labelPadding": 2,
"title": "relative x-coordinates (m)", "titleFont": "DejaVu Sans", "titleFontSize": 12, "titleFontWeight": "normal", "titleColor": "#222", "titleAnchor": "end", "titleAlign": "right", "titleX": 477, "titleY": 28, "titleBaseline": "middle"}},
"y": {"field": "y", "type": "quantitative", "bin": {"binned": true, "step": 9.0909}, "scale": {"domain": [0, 200], "nice": false, "zero": false},
"axis": {"orient": "right", "values": [0,20,40,60,80,100,120,140,160,180,200], "format": "d", "labelFlush": false, "grid": false, "labelFont": "DejaVu Sans", "labelFontSize": 11, "labelColor": "#333", "tickSize": 4, "tickColor": "#000", "domainColor": "#000", "domainWidth": 1.5, "labelPadding": 2, "title": null}},
"color": {"field": "v", "type": "quantitative", "scale": {"domain": [0, 100], "range": ["#000000", "#ffffff"], "interpolate": "rgb"}, "legend": null}
}},
{"mark": {"type": "rect", "stroke": "#000", "strokeWidth": 0.8, "strokeOpacity": 0.7},
"encoding": {
"x": {"field": "x", "type": "quantitative", "bin": {"binned": true, "step": 9.0909},
"axis": {"orient": "bottom", "labels": false, "ticks": false, "domain": false, "grid": false, "title": "(a)", "titleFont": "DejaVu Sans", "titleFontSize": 14, "titleFontWeight": "bold", "titleColor": "#000", "titleAnchor": "middle", "titleY": 60, "titleBaseline": "middle"}},
"y": {"field": "y", "type": "quantitative", "bin": {"binned": true, "step": 9.0909},
"axis": {"orient": "left", "labels": false, "ticks": false, "domain": true, "domainColor": "#999", "domainDash": [1, 1], "grid": false, "title": "relative y-coordinates (m)", "titleFont": "DejaVu Sans", "titleFontSize": 12, "titleFontWeight": "normal", "titleColor": "#222", "titleAngle": 270, "titleAlign": "left", "titleBaseline": "middle", "titleX": -22, "titleY": 302}},
"color": {"field": "v", "type": "quantitative", "scale": {"domain": [0, 100], "range": ["#000000", "#ffffff"], "interpolate": "rgb"}, "legend": null}
}}
],
"resolve": {"axis": {"x": "independent", "y": "independent"}}
},
{
"width": 445, "height": 292,
"title": {"text": "soil compoction risk / optimal route", "font": "Liberation Sans", "fontSize": 14, "fontWeight": "normal", "color": "#000", "offset": 3},
"data": {"name": "b"},
"layer": [
{"mark": {"type": "rect", "stroke": "#000", "strokeWidth": 0.8, "strokeOpacity": 0.7},
"encoding": {
"x": {"field": "x", "type": "quantitative", "bin": {"binned": true, "step": 9.0909}, "scale": {"domain": [0, 200], "reverse": true, "nice": false, "zero": false},
"axis": {"orient": "bottom", "values": [0,20,40,60,80,100,120,140,160,180,200], "format": "d", "labelFlush": false, "grid": false, "labelFont": "DejaVu Sans", "labelFontSize": 11, "labelColor": "#333", "tickSize": 4, "tickColor": "#000", "domainColor": "#000", "domainWidth": 2, "labelPadding": 2,
"title": "relative x-coordinates (m)", "titleFont": "DejaVu Sans", "titleFontSize": 12, "titleFontWeight": "normal", "titleColor": "#222", "titleAnchor": "end", "titleAlign": "right", "titleX": 477, "titleY": 28, "titleBaseline": "middle"}},
"y": {"field": "y", "type": "quantitative", "bin": {"binned": true, "step": 9.0909}, "scale": {"domain": [0, 200], "nice": false, "zero": false},
"axis": {"orient": "right", "values": [0,20,40,60,80,100,120,140,160,180,200], "format": "d", "labelFlush": false, "grid": false, "labelFont": "DejaVu Sans", "labelFontSize": 11, "labelColor": "#333", "tickSize": 4, "tickColor": "#000", "domainColor": "#000", "domainWidth": 1.5, "labelPadding": 2, "title": null}},
"color": {"field": "v", "type": "quantitative", "scale": {"domain": [0, 100], "range": ["#000000", "#ffffff"], "interpolate": "rgb"}, "legend": null}
}},
{"mark": {"type": "rect", "stroke": "#000", "strokeWidth": 0.8, "strokeOpacity": 0.7},
"encoding": {
"x": {"field": "x", "type": "quantitative", "bin": {"binned": true, "step": 9.0909},
"axis": {"orient": "bottom", "labels": false, "ticks": false, "domain": false, "grid": false, "title": "(b)", "titleFont": "DejaVu Sans", "titleFontSize": 14, "titleFontWeight": "bold", "titleColor": "#000", "titleAnchor": "middle", "titleY": 57, "titleBaseline": "middle"}},
"y": {"field": "y", "type": "quantitative", "bin": {"binned": true, "step": 9.0909},
"axis": {"orient": "left", "labels": false, "ticks": false, "domain": true, "domainColor": "#999", "domainDash": [1, 1], "grid": false, "title": "relative y-coordinates (m)", "titleFont": "DejaVu Sans", "titleFontSize": 12, "titleFontWeight": "normal", "titleColor": "#222", "titleAngle": 270, "titleAlign": "left", "titleBaseline": "middle", "titleX": -22, "titleY": 302}},
"color": {"field": "v", "type": "quantitative", "scale": {"domain": [0, 100], "range": ["#000000", "#ffffff"], "interpolate": "rgb"}, "legend": null}
}}
],
"resolve": {"axis": {"x": "independent", "y": "independent"}}
}
]
}
